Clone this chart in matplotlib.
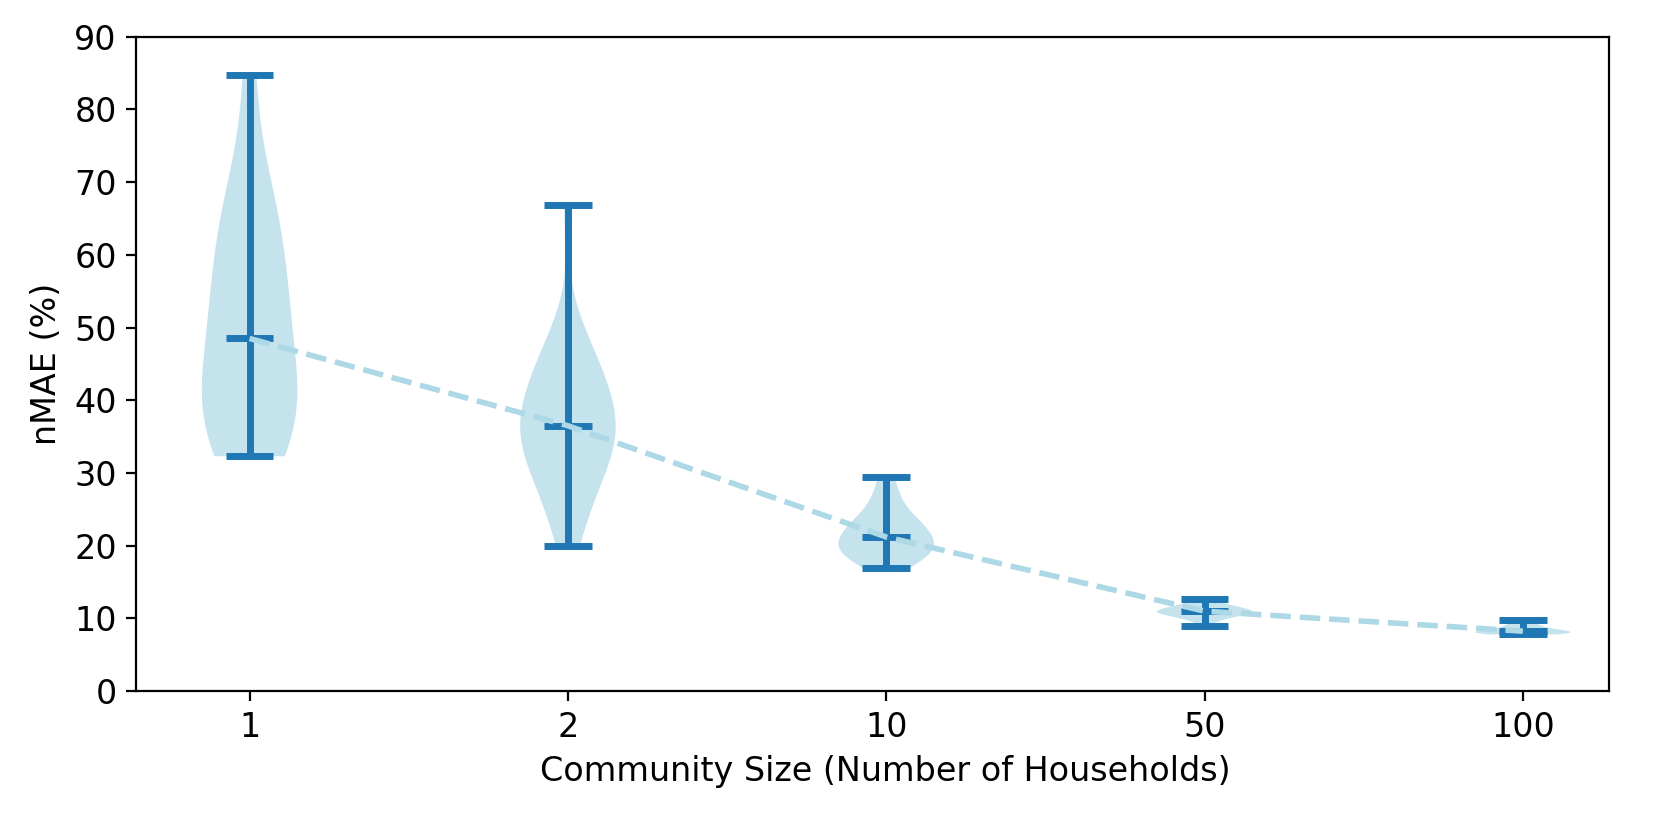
import matplotlib
matplotlib.use("Agg")
import matplotlib.pyplot as plt
import numpy as np

plt.rcParams['font.size'] = 12

# Community sizes (x tick labels)
community_sizes = ["1", "2", "10", "50", "100"]

# nMAE (%) samples per community size
nmae_1 = [32.3, 33.0, 34.0, 35.5, 37.0, 38.5, 40.0, 41.5, 43.5, 46.0,
          48.5,
          50.5, 52.5, 55.0, 57.5, 60.0, 62.5, 65.0, 68.0, 72.0, 84.8]
nmae_2 = [20.0, 23.0, 25.5, 27.5, 29.0, 30.5, 31.5, 32.5, 33.5, 34.3,
          35.0, 35.8, 36.5, 37.3, 38.2, 39.0, 40.0, 41.0, 42.2, 43.5,
          44.8, 46.0, 47.8, 50.0, 66.8]
nmae_10 = [16.9, 17.6, 18.2, 18.6, 19.0, 19.3, 19.6, 19.9, 20.2, 20.6,
           21.2,
           21.6, 22.0, 22.4, 22.8, 23.3, 24.0, 24.9, 26.0, 27.6, 29.5]
nmae_50 = [9.0, 9.7, 10.0, 10.2, 10.4, 10.5, 10.6, 10.7, 10.8, 10.9,
           11.0,
           11.05, 11.1, 11.2, 11.3, 11.4, 11.6, 11.8, 12.0, 12.3, 12.7]
nmae_100 = [7.8, 7.85, 7.9, 7.95, 8.0, 8.0, 8.05, 8.1, 8.15, 8.2,
            8.25,
            8.3, 8.4, 8.5, 8.6, 8.75, 8.9, 9.1, 9.3, 9.5, 9.8]

data = [nmae_1, nmae_2, nmae_10, nmae_50, nmae_100]

fig = plt.figure(figsize=(8.31, 4.08), dpi=200)
ax = fig.add_axes([0.082, 0.153, 0.886, 0.802])

positions = list(range(1, len(data) + 1))
parts = ax.violinplot(data, positions=positions, widths=0.3,
                      showmeans=False, showmedians=True, showextrema=True)
for body in parts['bodies']:
    body.set_facecolor('lightblue')
    body.set_edgecolor('none')
    body.set_alpha(0.7)
for key in ('cmins', 'cmaxes', 'cbars', 'cmedians'):
    parts[key].set_color('#1f77b4')
    parts[key].set_linewidth(2.5)

medians = [float(np.median(d)) for d in data]
ax.plot(positions, medians, linestyle='--', color='lightblue', linewidth=2)

ax.set_xticks(positions)
ax.set_xticklabels(community_sizes)
ax.set_xlim(0.644, 5.27)
ax.set_ylim(0, 90)
ax.set_yticks(range(0, 91, 10))
ax.set_xlabel("Community Size (Number of Households)", x=0.509)
ax.set_ylabel("nMAE (%)")

fig.savefig("out.png", dpi=200)
